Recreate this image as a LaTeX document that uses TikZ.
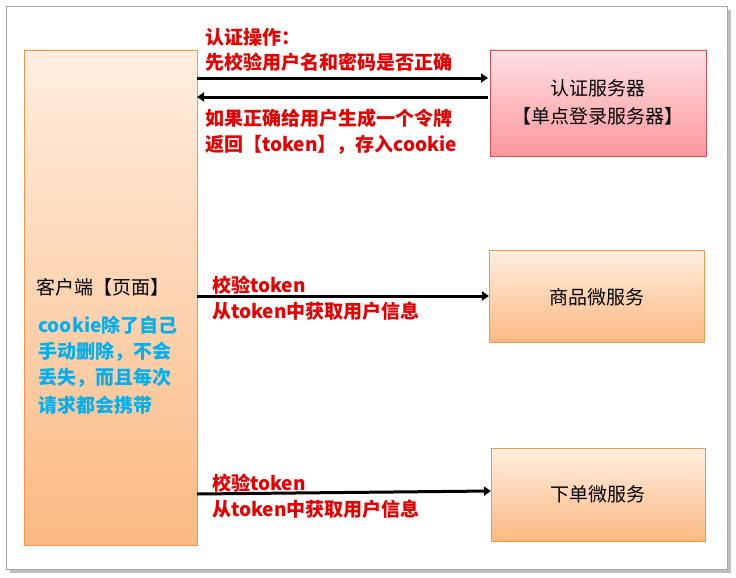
\documentclass[tikz,border=0pt]{standalone}
\usepackage{fontspec}
\setmainfont{Noto Sans CJK SC}
\usetikzlibrary{arrows.meta}
\definecolor{myred}{RGB}{230,0,0}
\definecolor{myblue}{RGB}{0,176,240}
\tikzset{
  arr/.style={line width=3pt,-{Triangle[length=7pt,width=9pt]}},
  rt/.style={text=myred,font=\fontsize{19}{21}\selectfont\bfseries,anchor=west,inner sep=0pt},
  bt/.style={text=myblue,font=\fontsize{19}{21}\selectfont\bfseries,anchor=west,inner sep=0pt},
  kt/.style={text=black,font=\fontsize{19}{21}\selectfont,inner sep=0pt},
  obox/.style={draw={rgb,255:red,240;green,150;blue,80},top color={rgb,255:red,255;green,238;blue,224},bottom color={rgb,255:red,251;green,185;blue,130}},
}
\begin{document}
\begin{tikzpicture}[x=1pt,y=-1pt]
\useasboundingbox (0,0) rectangle (736,578);
\fill[white] (0,0) rectangle (736,578);
\fill[black!25] (10,10) rectangle (731,573);
\draw[black!35,fill=white] (6,6) rectangle (727,569);
\draw[obox] (24,50) rectangle (197,545);
\draw[draw={rgb,255:red,220;green,80;blue,90},top color={rgb,255:red,255;green,225;blue,228},bottom color={rgb,255:red,250;green,150;blue,155}] (490,50) rectangle (706,156);
\draw[obox] (489,250) rectangle (704,342);
\draw[obox] (491,448) rectangle (705,541);
\coordinate (a1) at (197,78); \coordinate (b1) at (488,78);
\coordinate (a2) at (488,97); \coordinate (b2) at (197,97);
\coordinate (a3) at (197,296); \coordinate (b3) at (489,296);
\coordinate (a4) at (197,494); \coordinate (b4) at (491,491);
\draw[arr] (a1) -- (b1);
\draw[arr] (a2) -- (b2);
\draw[arr] (a3) -- (b3);
\draw[arr] (a4) -- (b4);
\node[rt] (t1) at (205,37) {认证操作：};
\node[rt] (t2) at (205,62) {先校验用户名和密码是否正确};
\node[rt] (t3) at (205,118) {如果正确给用户生成一个令牌};
\node[rt] (t4) at (205,145) {返回【token】，存入cookie};
\node[rt] (t5) at (212,285) {校验token};
\node[rt] (t6) at (212,311) {从token中获取用户信息};
\node[rt] (t7) at (212,483) {校验token};
\node[rt] (t8) at (212,509) {从token中获取用户信息};
\node[kt,anchor=west] (c) at (36,287) {客户端【页面】};
\node[bt] (u1) at (38,325) {cookie除了自己};
\node[bt] (u2) at (38,352) {手动删除，不会};
\node[bt] (u3) at (38,378) {丢失，而且每次};
\node[bt] (u4) at (38,405) {请求都会携带};
\node[kt] (s1) at (598,88) {认证服务器};
\node[kt] (s2) at (598,116) {【单点登录服务器】};
\node[kt] (s3) at (597,297) {商品微服务};
\node[kt] (s4) at (598,494) {下单微服务};
\end{tikzpicture}
\end{document}
